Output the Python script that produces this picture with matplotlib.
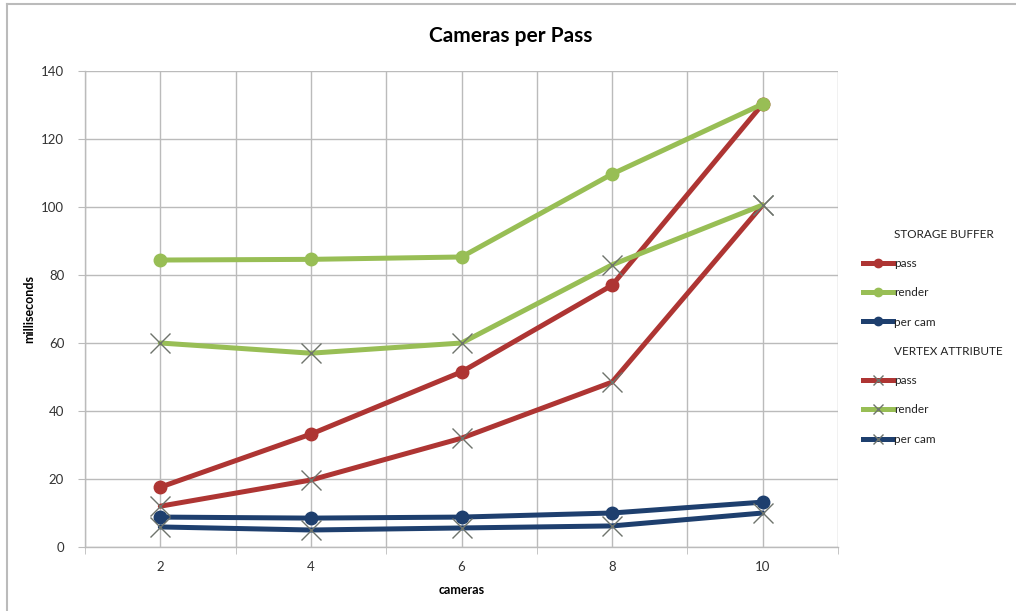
import matplotlib
matplotlib.use("Agg")
import matplotlib.pyplot as plt
from matplotlib.lines import Line2D

plt.rcParams['font.family'] = ['Lato', 'DejaVu Sans']

cameras = [2, 4, 6, 8, 10]

# STORAGE BUFFER series
sb_pass = [17.6, 33.2, 51.5, 77.0, 130.3]
sb_render = [84.4, 84.6, 85.3, 109.7, 130.3]
sb_per_cam = [8.8, 8.5, 8.8, 10.0, 13.2]

# VERTEX ATTRIBUTE series
va_pass = [12.0, 19.7, 32.0, 48.5, 100.6]
va_render = [60.0, 57.0, 60.0, 83.0, 100.6]
va_per_cam = [5.9, 5.0, 5.6, 6.2, 10.0]

RED = '#AE3533'
GREEN = '#98BE55'
BLUE = '#1E3F6E'
GRID = '#BBBBBB'
XEDGE = '#6E746C'

fig = plt.figure(figsize=(10.16, 6.11), dpi=100)
ax = fig.add_axes([85 / 1016, 1 - 547 / 611, (838 - 85) / 1016, (547 - 71) / 611])

pos = list(range(len(cameras)))
lw = 3.6
circ = dict(marker='o', markersize=9)
cross = dict(marker='x', markersize=15, markeredgewidth=1.0, markeredgecolor=XEDGE)

series = [
    ('pass', sb_pass, RED, circ),
    ('render', sb_render, GREEN, circ),
    ('per cam', sb_per_cam, BLUE, circ),
    ('pass', va_pass, RED, cross),
    ('render', va_render, GREEN, cross),
    ('per cam', va_per_cam, BLUE, cross),
]
for label, vals, color, mk in series:
    ax.plot(pos, vals, color=color, lw=lw, solid_capstyle='round',
            solid_joinstyle='round', zorder=3, label=label, **mk)

ax.set_xlim(-0.5, len(cameras) - 0.5)
ax.set_ylim(0, 140)
ax.set_yticks(range(0, 141, 20))
ax.set_xticks(pos)
ax.set_xticklabels([str(c) for c in cameras])
ax.set_xticks([p - 0.5 for p in range(len(cameras) + 1)], minor=True)
ax.tick_params(axis='x', which='major', length=0, pad=10, labelsize=9.5, colors='#333333')
ax.tick_params(axis='x', which='minor', length=5, color=GRID, direction='out')
ax.tick_params(axis='y', which='major', length=5, color=GRID, direction='out',
               pad=10, labelsize=9.5, labelcolor='#333333')
ax.grid(True, which='both', axis='x', color=GRID, lw=1.0)
ax.grid(True, which='major', axis='y', color=GRID, lw=1.0)
ax.set_axisbelow(True)
for side in ('top', 'right'):
    ax.spines[side].set_visible(False)
for side in ('left', 'bottom'):
    ax.spines[side].set_color(GRID)
    ax.spines[side].set_linewidth(1.0)

ax.set_xlabel('cameras', fontsize=9, fontweight='bold', labelpad=8)
ax.set_ylabel('milliseconds', fontsize=9, fontweight='bold', labelpad=4)
fig.suptitle('Cameras per Pass', fontsize=15, fontweight='bold', x=0.503, y=0.957)

# Legend with group headers and compact marker swatches
def swatch(color, marker):
    if marker == 'x':
        return Line2D([], [], color=color, lw=3.6, marker='x', markersize=7,
                      markeredgewidth=1.0, markeredgecolor=XEDGE)
    return Line2D([], [], color=color, lw=3.6, marker='o', markersize=6)

blank = Line2D([], [], lw=0, marker=None)
leg_handles = [blank, swatch(RED, 'o'), swatch(GREEN, 'o'), swatch(BLUE, 'o'),
               blank, swatch(RED, 'x'), swatch(GREEN, 'x'), swatch(BLUE, 'x')]
leg_labels = ['STORAGE BUFFER', 'pass', 'render', 'per cam',
              'VERTEX ATTRIBUTE', 'pass', 'render', 'per cam']
leg = fig.legend(leg_handles, leg_labels, loc='upper left',
                 bbox_to_anchor=(852 / 1016, 1 - 218 / 611), frameon=False,
                 fontsize=8.5, handlelength=2.6, handletextpad=0.1,
                 labelspacing=1.55)
for t in leg.get_texts():
    t.set_color('#222222')

# Outer chart border (top and left edges)
fig.add_artist(Line2D([7 / 1016, 1], [1 - 4 / 611, 1 - 4 / 611], color='#BBBBBB', lw=1.5,
                      transform=fig.transFigure))
fig.add_artist(Line2D([7 / 1016, 7 / 1016], [0, 1 - 4 / 611], color='#BBBBBB', lw=1.5,
                      transform=fig.transFigure))

fig.savefig('out.png', dpi=100)
